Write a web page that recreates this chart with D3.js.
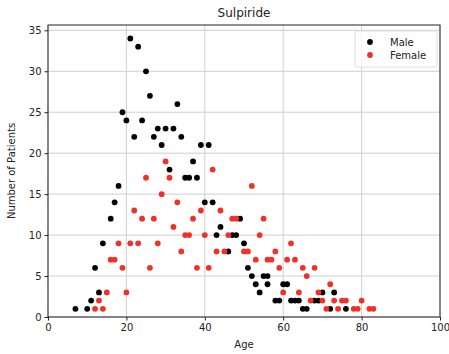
<!DOCTYPE html>
<html>
<head>
<meta charset="utf-8">
<script src="https://cdn.jsdelivr.net/npm/d3@7"></script>
<style>
  body { margin: 0; background: #fff; }
  text { font-family: "DejaVu Sans", sans-serif; fill: #222; }
</style>
</head>
<body>
<div id="chart"></div>
<script>
  // ages and patient counts
  const maleAge = [7, 10, 11, 12, 13, 14, 16, 17, 18, 19, 20, 21, 22, 23, 24, 25, 26, 27, 28, 29, 30, 31, 32, 33, 34, 35, 36, 37, 38, 39, 40, 41, 42, 43, 44, 46, 47, 48, 49, 50, 51, 52, 53, 54, 55, 56, 56, 58, 59, 60, 61, 62, 63, 64, 65, 66, 68, 69, 70, 72, 73, 76];
  const maleCount = [1, 1, 2, 6, 3, 9, 12, 14, 16, 25, 24, 34, 22, 33, 24, 30, 27, 22, 23, 21, 23, 18, 23, 26, 22, 17, 17, 19, 17, 21, 14, 21, 14, 10, 11, 8, 10, 10, 12, 9, 6, 5, 4, 3, 5, 5, 4, 2, 2, 4, 4, 2, 2, 2, 1, 1, 2, 2, 3, 1, 3, 1];

  const femaleAge = [12, 13, 14, 15, 16, 17, 18, 19, 20, 21, 22, 23, 24, 25, 26, 27, 28, 29, 30, 31, 32, 33, 34, 35, 36, 37, 38, 39, 40, 41, 42, 43, 44, 45, 46, 47, 48, 50, 51, 52, 53, 54, 55, 56, 57, 58, 59, 60, 61, 62, 63, 64, 65, 66, 67, 68, 69, 70, 71, 72, 73, 74, 75, 76, 78, 79, 80, 82, 83];
  const femaleCount = [1, 2, 1, 3, 7, 7, 9, 6, 3, 9, 13, 9, 12, 17, 6, 12, 9, 15, 19, 17, 11, 14, 8, 10, 10, 12, 6, 13, 10, 6, 18, 8, 13, 8, 10, 12, 12, 8, 8, 16, 7, 10, 12, 7, 7, 8, 6, 3, 7, 9, 7, 3, 6, 5, 2, 6, 3, 2, 1, 4, 2, 1, 2, 2, 1, 1, 2, 1, 1];

  const xTicks = [0, 20, 40, 60, 80, 100];
  const yTicks = [0, 5, 10, 15, 20, 25, 30, 35];

  const W = 449, H = 354;
  const margin = { top: 25, right: 9, bottom: 37, left: 48 };
  const width = W - margin.left - margin.right;
  const height = H - margin.top - margin.bottom;

  const svg = d3.select('#chart').append('svg')
    .attr('width', W)
    .attr('height', H);

  const g = svg.append('g')
    .attr('transform', 'translate(' + margin.left + ',' + margin.top + ')');

  const x = d3.scaleLinear().domain([0, 100]).range([0, width]);
  const y = d3.scaleLinear().domain([0, 35.65]).range([height, 0]);

  // grid
  g.append('g').selectAll('line').data(xTicks).enter().append('line')
    .attr('x1', d => x(d)).attr('x2', d => x(d))
    .attr('y1', 0).attr('y2', height)
    .style('stroke', '#cfcfcf').style('stroke-width', 1);
  g.append('g').selectAll('line').data(yTicks).enter().append('line')
    .attr('x1', 0).attr('x2', width)
    .attr('y1', d => y(d)).attr('y2', d => y(d))
    .style('stroke', '#cfcfcf').style('stroke-width', 1);

  // axes
  const xAxis = g.append('g')
    .attr('transform', 'translate(0,' + height + ')')
    .call(d3.axisBottom(x).tickValues(xTicks).tickSize(3.5).tickPadding(3));
  const yAxis = g.append('g')
    .call(d3.axisLeft(y).tickValues(yTicks).tickSize(3.5).tickPadding(3));
  [xAxis, yAxis].forEach(a => {
    a.selectAll('text').style('font-size', '10px').style('font-family', '"DejaVu Sans", sans-serif').attr('fill', '#222');
    a.selectAll('line').style('stroke', '#222');
    a.select('.domain').remove();
  });

  g.append('rect')
    .attr('width', width).attr('height', height)
    .style('fill', 'none').style('stroke', '#222').style('stroke-width', 1);

  const male = maleAge.map((a, i) => ({ age: a, count: maleCount[i] }));
  const female = femaleAge.map((a, i) => ({ age: a, count: femaleCount[i] }));

  g.append('g').selectAll('circle').data(male).enter().append('circle')
    .attr('cx', d => x(d.age)).attr('cy', d => y(d.count))
    .attr('r', 2.9).style('fill', '#000');

  g.append('g').selectAll('circle').data(female).enter().append('circle')
    .attr('cx', d => x(d.age)).attr('cy', d => y(d.count))
    .attr('r', 2.9).style('fill', '#f0302a');

  // labels
  svg.append('text')
    .attr('x', margin.left + width / 2).attr('y', 17)
    .attr('text-anchor', 'middle')
    .style('font-size', '12px')
    .text('Sulpiride');

  svg.append('text')
    .attr('x', margin.left + width / 2).attr('y', 348)
    .attr('text-anchor', 'middle')
    .style('font-size', '10px')
    .text('Age');

  svg.append('text')
    .attr('transform', 'translate(15,' + (margin.top + height / 2) + ') rotate(-90)')
    .attr('text-anchor', 'middle')
    .style('font-size', '10px')
    .text('Number of Patients');

  // legend
  const leg = svg.append('g').attr('transform', 'translate(355,31)');
  leg.append('rect')
    .attr('width', 82).attr('height', 36).attr('rx', 2)
    .style('fill', '#fff').style('fill-opacity', 0.8)
    .style('stroke', '#ddd');
  const items = [['Male', '#000'], ['Female', '#f0302a']];
  items.forEach((it, i) => {
    leg.append('circle')
      .attr('cx', 15).attr('cy', 11 + i * 13)
      .attr('r', 2.9).style('fill', it[1]);
    leg.append('text')
      .attr('x', 35).attr('y', 11 + i * 13).attr('dy', '0.35em')
      .style('font-size', '10px')
      .text(it[0]);
  });
</script>
</body>
</html>
